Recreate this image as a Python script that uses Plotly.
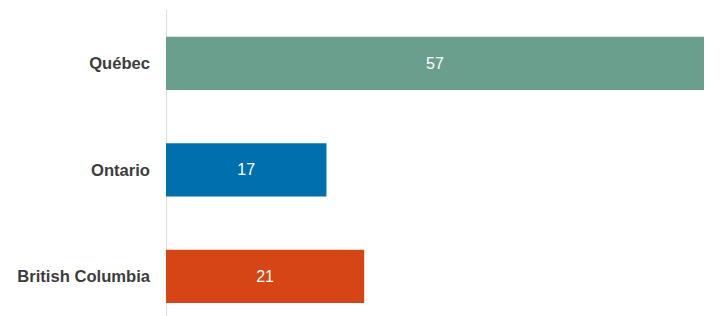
import plotly.graph_objects as go

provinces = ["Québec", "Ontario", "British Columbia"]
values = [57, 17, 21]
colors = ["#6A9E8D", "#006FAE", "#D64515"]

fig = go.Figure(go.Bar(
    x=values, y=provinces, orientation="h",
    marker=dict(color=colors, line=dict(width=0)),
    width=0.5,
    text=[str(v) for v in values],
    textposition="inside", insidetextanchor="middle",
    textfont=dict(family="Liberation Sans, Arial, sans-serif", size=16, color="white"),
    hoverinfo="skip",
))

fig.update_layout(
    width=725, height=316,
    margin=dict(l=166, r=21, t=10, b=0),
    paper_bgcolor="white", plot_bgcolor="white",
    showlegend=False,
    xaxis=dict(range=[0, 57], showgrid=False, showticklabels=False,
               zeroline=True, zerolinecolor="#DDDDDD", zerolinewidth=1,
               fixedrange=True),
    yaxis=dict(range=[2.373, -0.5], showgrid=False, zeroline=False,
               ticks="", ticklabelstandoff=15,
               tickfont=dict(family="Liberation Sans, Arial, sans-serif", size=16.6,
                             color="#3D3D3D", weight="bold"),
               fixedrange=True),
)

fig.write_html("out.html")
